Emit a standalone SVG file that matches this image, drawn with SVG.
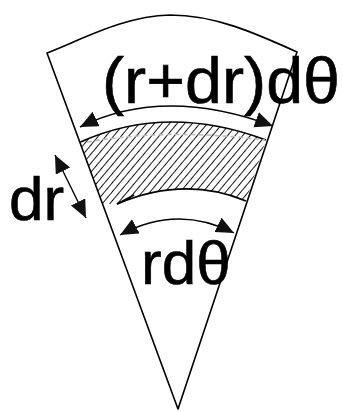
<svg xmlns="http://www.w3.org/2000/svg" width="343" height="412" viewBox="0 0 343 412">
  <style>
    .edge { fill: none; stroke: #000; stroke-width: 1.6; stroke-linejoin: round; }
    .bound { fill: none; stroke: #000; stroke-width: 1.7; }
    .dim { fill: none; stroke: #000; stroke-width: 1.4; marker-start: url(#arr); marker-end: url(#arr); }
    .lbl { font-family: "Liberation Sans", Arial, sans-serif; fill: #000; stroke: #000; stroke-width: 0.6; }
  </style>
  <defs>
    <pattern id="hatch" patternUnits="userSpaceOnUse" width="5.8" height="10" patternTransform="rotate(40)">
      <line x1="0" y1="-1" x2="0" y2="11" stroke="#000" stroke-width="1.8"/>
    </pattern>
    <marker id="arr" markerUnits="userSpaceOnUse" markerWidth="20" markerHeight="17" refX="18" refY="8" orient="auto-start-reverse">
      <path d="M0,0 L18,8 L0,16 Z" fill="#111"/>
    </marker>
  </defs>

  <g id="sector">
    <path class="edge" d="M47,53 C85,38 125,16 170,15 C215,15 255,33 297,52 L178,409 Z"/>
  </g>

  <g id="element">
    <path d="M80.5,142 Q167,103 266,140 L246,201 Q184.5,175.5 117,204 L102.5,204 Z" fill="url(#hatch)"/>
    <path class="bound" d="M80.5,142 Q167,103 266,140"/>
    <path class="bound" d="M117,204 Q184.5,175.5 246,201"/>
    <path class="bound" d="M117,204 L134,195"/>
    <path d="M87,142 Q170,128 265,140" fill="none" stroke="#bbb" stroke-width="1.5" stroke-dasharray="5 3"/>
  </g>

  <g id="connectors">
    <path class="dim" d="M80,127 Q163.5,85.5 273,126"/>
    <path class="dim" d="M120,235 Q177,204 234,233"/>
    <path class="dim" d="M55,155 L86,218"/>
  </g>

  <g id="label-outer">
    <text class="lbl" x="102" y="103" font-size="65" textLength="238" lengthAdjust="spacingAndGlyphs">(r+dr)dθ</text>
  </g>
  <g id="label-dr">
    <text class="lbl" x="9" y="220" font-size="62">dr</text>
  </g>
  <g id="label-inner">
    <text class="lbl" x="141" y="284" font-size="62">rdθ</text>
  </g>
</svg>
